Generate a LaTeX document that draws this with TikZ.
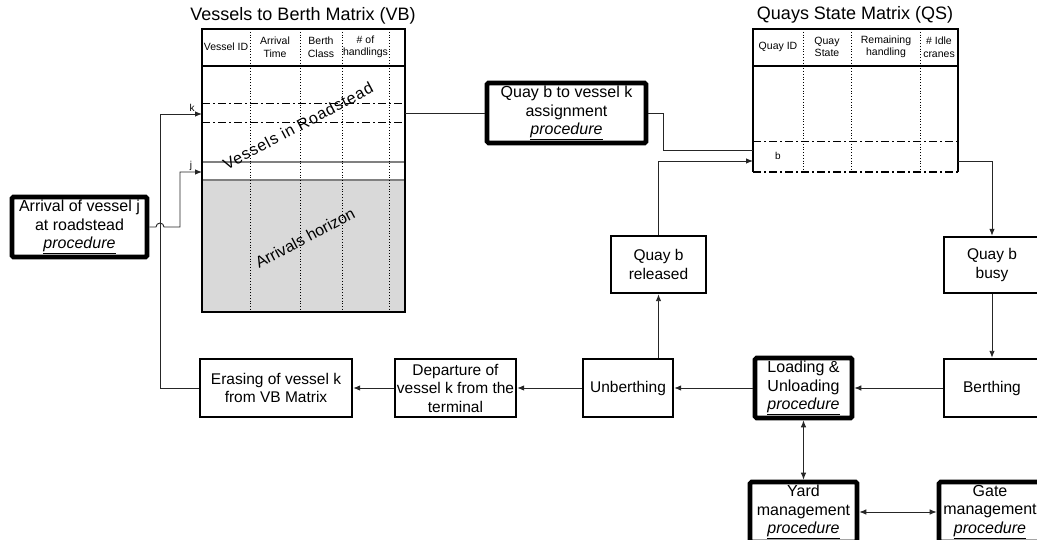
\documentclass[tikz,border=0pt]{standalone}
\usepackage{fontspec}
\setmainfont{Liberation Sans}
\usepackage{tikz}
\usetikzlibrary{arrows.meta, positioning}
\tikzstyle{stage} = [rectangle, minimum height=58pt, inner sep=0pt, align=center, draw=black, line width=2.4pt, fill=white, font=\fontsize{15.5}{18.5}\selectfont]
\tikzstyle{proc} = [rectangle, rounded corners=1.5pt, minimum height=60pt, inner sep=0pt, align=center, draw=black, line width=4.6pt, fill=white, font=\fontsize{16}{18.8}\selectfont]
\tikzstyle{title} = [font=\fontsize{18}{20}\selectfont]
\tikzstyle{head} = [align=center, inner sep=0pt, font=\fontsize{10.5}{12.5}\selectfont]
\tikzstyle{mark2} = [inner sep=0pt, font=\fontsize{10}{12}\selectfont]
\tikzstyle{zone} = [rotate=28, inner sep=0pt, font=\fontsize{16}{18}\selectfont]
\tikzstyle{dashdot} = [line width=1pt, dash pattern=on 8pt off 3pt on 2pt off 3pt]
\tikzstyle{line2} = [line width=0.9pt, black!85]
\tikzstyle{arrow2} = [line2, -{Latex[length=7pt,width=5.5pt]}]
\tikzstyle{both2} = [line2, {Latex[length=7pt,width=5.5pt]}-{Latex[length=7pt,width=5.5pt]}]
\newcommand{\procword}{\underline{\textit{procedure}}}

\begin{document}
\begin{tikzpicture}[x=1pt, y=-1pt]
            \useasboundingbox (0,0) rectangle (1037,540);

            % VB matrix
            \fill[black!15] (202,180) rectangle (405,312);
            \draw[black!50, line width=1.5pt] (202,162) -- (405,162) (202,180) -- (405,180);
            \draw[dashdot] (202,104) -- (405,104) (202,123) -- (405,123);
            \foreach \x in {250,300,342,389} \draw[dotted, line width=0.8pt] (\x,29) -- (\x,312);
            \draw[line width=1.3pt] (202,29) rectangle (405,312) (202,66) -- (405,66);
            \node (vbtitle) [title] at (303,16) {Vessels to Berth Matrix (VB)};
            \node (vbh1) [head] at (226,47) {Vessel ID};
            \node (vbh2) [head] at (275,47) {Arrival\\Time};
            \node (vbh3) [head] at (321,47) {Berth\\Class};
            \node (vbh4) [head] at (365.5,47) {\# of\\handlings};
            \node (roads) [zone] at (298,126) {\addfontfeatures{LetterSpace=5}Vessels in Roadstead};
            \node (horizon) [zone] at (305,238) {Arrivals horizon};
            \coordinate (vbk) at (202,114);
            \coordinate (vbj) at (202,172);
            \coordinate (vbout) at (405,113);
            \node (klab) [mark2] at (192,108) {k};
            \node (jlab) [mark2] at (191,166) {j};

            % QS matrix
            \draw[dashdot] (753,142) -- (958,142);
            \foreach \x in {803,851,920} \draw[dotted, line width=0.8pt] (\x,29) -- (\x,172);
            \draw[line width=1.3pt] (753,172) -- (753,29) -- (958,29) -- (958,172) (753,66) -- (958,66);
            \draw[dashdot, line width=1.6pt] (753,172) -- (958,172);
            \node (qstitle) [title] at (855,15) {Quays State Matrix (QS)};
            \node (qsh1) [head] at (778,47) {Quay ID};
            \node (qsh2) [head] at (827,47) {Quay\\State};
            \node (qsh3) [head] at (886,47) {Remaining\\handling};
            \node (qsh4) [head] at (939,47) {\# Idle\\cranes};
            \node (blab) [mark2] at (778,156) {b};
            \coordinate (qsin) at (753,150);
            \coordinate (qsb) at (753,161);
            \coordinate (qsout) at (958,161);

            % Nodes
            \node (arrive) [proc, minimum width=135pt] at (79.5,227) {Arrival of vessel j\\at roadstead\\\procword};
            \node (assign) [proc, minimum width=159pt] at (566.5,113) {Quay b to vessel k\\assignment\\\procword};
            \node (load) [proc, minimum width=97pt] at (803.5,388) {Loading \&\\Unloading\\\procword};
            \node (berth) [stage, minimum width=96pt, right of=load, node distance=188.5pt] {Berthing};
            \node (unberth) [stage, minimum width=90pt, left of=load, node distance=175.5pt] {Unberthing};
            \node (depart) [stage, minimum width=121pt, left of=unberth, node distance=172.5pt] {Departure of\\vessel k from the\\terminal};
            \node (erase) [stage, minimum width=152pt, left of=depart, node distance=179.5pt] {Erasing of vessel k\\from VB Matrix};
            \node (busy) [stage, minimum width=96pt, minimum height=56pt, above of=berth, node distance=123pt] {Quay b\\busy};
            \node (released) [stage, minimum width=95pt, minimum height=57pt] at (658.5,264.5) {Quay b\\released};
            \node (yard) [proc, minimum width=107pt, below of=load, node distance=124pt] {Yard\\management\\\procword};
            \node (gate) [proc, minimum width=102pt, right of=yard, node distance=186.5pt] {Gate\\management\\\procword};
            \coordinate (spine) at (160,114);

            % Edges
            \draw [arrow2] (erase.west) -| (spine) -- (vbk);
            \draw [arrow2] (arrive.east) -- ([xshift=-4pt]spine |- arrive.east) arc[start angle=180, end angle=0, radius=4pt] -| ([xshift=-22pt]vbj) -- (vbj);
            \draw [line2] (vbout) -- (assign.west);
            \draw [line2] (assign.east) -| ([xshift=-90pt]qsin) -- (qsin);
            \draw [arrow2] (released.north) |- (qsb);
            \draw [arrow2] (qsout) -| (busy.north);
            \draw [arrow2] (busy) -- (berth);
            \draw [arrow2] (berth) -- (load);
            \draw [arrow2] (load) -- (unberth);
            \draw [arrow2] (unberth) -- (depart);
            \draw [arrow2] (depart) -- (erase);
            \draw [arrow2] (released.south |- unberth.north) -- (released.south);
            \draw [both2] (load) -- (yard);
            \draw [both2] (yard) -- (gate);
        \end{tikzpicture}
\end{document}
